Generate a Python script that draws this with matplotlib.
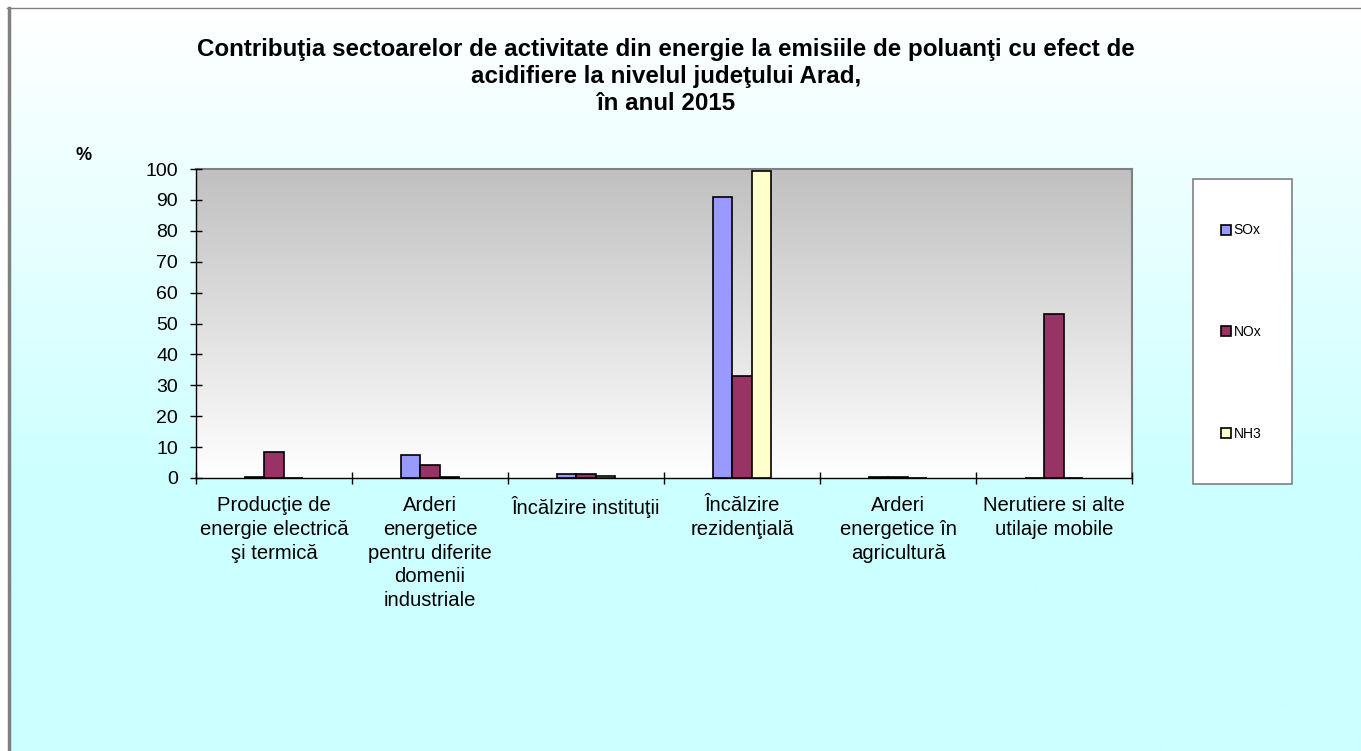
import numpy as np
import matplotlib
matplotlib.use("Agg")
import matplotlib.pyplot as plt
from matplotlib.patches import Rectangle
from matplotlib.lines import Line2D
from matplotlib.colors import LinearSegmentedColormap

plt.rcParams['font.family'] = ['Liberation Sans', 'DejaVu Sans']

categories = ["Producţie de\nenergie electrică\nşi termică",
              "Arderi\nenergetice\npentru diferite\ndomenii\nindustriale",
              "Încălzire instituţii",
              "Încălzire\nrezidenţială",
              "Arderi\nenergetice în\nagricultură",
              "Nerutiere si alte\nutilaje mobile"]
series_names = ["SOx", "NOx", "NH3"]
sox = [0.2, 7.5, 1.3, 91.0, 0.2, 0.0]
nox = [8.3, 4.1, 1.4, 33.1, 0.2, 53.1]
nh3 = [0.0, 0.2, 0.5, 99.2, 0.0, 0.1]
colors = ["#9999FF", "#993366", "#FFFFCC"]
title = ("Contribuţia sectoarelor de activitate din energie la emisiile de poluanţi cu efect de\n"
         "acidifiere la nivelul judeţului Arad,\nîn anul 2015")

W, H = 1361, 751
fig = plt.figure(figsize=(W / 100, H / 100), dpi=100)
fig.patch.set_facecolor("white")

# figure background gradient
bg = fig.add_axes([8 / W, 0, 1 - 8 / W, 1 - 8 / H], zorder=-10)
bg.set_axis_off()
n = 400
t = np.linspace(0, 1, n)
t = np.clip(t / 0.65, 0, 1)
top = np.array([1.0, 1.0, 1.0])
bot = np.array([0xCC, 0xFF, 0xFF]) / 255
grad = top[None, :] * (1 - t[:, None]) + bot[None, :] * t[:, None]
bg.imshow(grad[:, None, :], aspect="auto", extent=[0, 1, 0, 1], origin="upper")
bg.set_xlim(0, 1); bg.set_ylim(0, 1)

# outer border
fig.add_artist(Line2D([8.5 / W, 8.5 / W], [0, 1 - 8 / H], color="#808080", lw=2.5,
                      transform=fig.transFigure))
fig.add_artist(Line2D([7 / W, 1], [1 - 8 / H, 1 - 8 / H], color="#808080", lw=1.0,
                      transform=fig.transFigure))

ax = fig.add_axes([196 / W, 1 - 478 / H, (1132 - 196) / W, (478 - 169) / H])
# plot area gradient: gray top -> white bottom
pg = np.linspace(0, 1, 256)
cmap = LinearSegmentedColormap.from_list("pg", ["#FFFFFF", "#C0C0C0"])
ax.imshow(pg[:, None], aspect="auto", cmap=cmap, extent=[-0.5, len(categories) - 0.5, 0, 100],
          origin="lower", zorder=0)

x = np.arange(len(categories))
bw = 0.125
for i, (vals, c, name) in enumerate(zip([sox, nox, nh3], colors, series_names)):
    ax.bar(x + (i - 1) * bw, vals, width=bw, color=c, edgecolor="black", linewidth=1.2,
           zorder=3, label=name)

ax.set_xlim(-0.5, len(categories) - 0.5)
ax.set_ylim(0, 100)
ax.set_yticks(np.arange(0, 101, 10))
ax.set_xticks(x)
ax.set_xticklabels(categories, fontsize=14.6, linespacing=1.32, va="top")
ax.set_xticks(np.arange(-0.5, len(categories), 1), minor=True)
ax.tick_params(axis="x", which="major", length=0, pad=13)
ax.tick_params(axis="x", which="minor", direction="inout", length=8, width=1)
ax.tick_params(axis="y", direction="inout", length=8, width=1, labelsize=14, pad=9)
for s in ["left", "bottom"]:
    ax.spines[s].set_color("black")
    ax.spines[s].set_linewidth(1.0)
for s in ["top", "right"]:
    ax.spines[s].set_color("#808080")
    ax.spines[s].set_linewidth(1.5)
ax.set_axisbelow(False)

fig.text(666 / W, 1 - 38 / H, title, ha="center", va="top", fontsize=17.4,
         fontweight="bold", linespacing=1.22)
fig.text(84 / W, 1 - 156 / H, "%", ha="center", va="center", fontsize=13, fontweight="bold")

# legend
lx0, lx1, ly0, ly1 = 1193, 1292, 179, 484
fig.add_artist(Rectangle((lx0 / W, 1 - ly1 / H), (lx1 - lx0) / W, (ly1 - ly0) / H,
                         transform=fig.transFigure, facecolor="white", edgecolor="#808080",
                         lw=1.2, zorder=5))
handles, labels = ax.get_legend_handles_labels()
leg = fig.legend(handles, labels, loc="center",
                 bbox_to_anchor=((lx0 + lx1) / 2 / W - 0.001, 1 - 332 / H),
                 frameon=False, fontsize=10, labelspacing=6.3, handlelength=0.7,
                 handleheight=0.7, handletextpad=0.2)
leg.set_zorder(6)

fig.savefig("out.png", dpi=100)
